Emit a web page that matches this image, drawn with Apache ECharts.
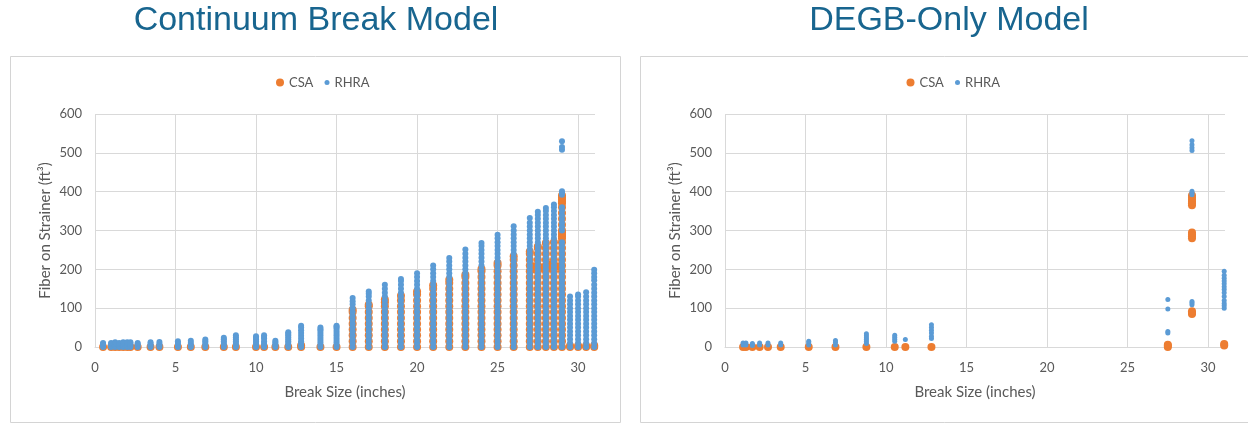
<!DOCTYPE html>
<html>
<head>
<meta charset="utf-8">
<script src="https://cdn.jsdelivr.net/npm/echarts@6/dist/echarts.min.js"></script>
<style>
html,body{margin:0;padding:0;background:#fff;}
#c{width:1248px;height:423px;}
</style>
</head>
<body>
<div id="c"></div>
<script>
// ---------- DATA ----------
const panelTitles = ['Continuum Break Model', 'DEGB-Only Model'];
const seriesNames = ['CSA', 'RHRA'];
const xAxisTitle = 'Break Size (inches)';
const yAxisTitle = 'Fiber on Strainer (ft³)';
const xRange = [0, 31.05];
const xStep = 5;
const yRange = [0, 600];
const yStep = 100;

// Continuum Break Model: break sizes (columns) and the fiber values found at each
const contSizes = [0.5,1,1.25,1.5,1.75,2,2.2,2.65,3.45,4,5.15,5.95,6.85,8,8.75,10,10.5,11.2,12,12.8,14,15,
  16,17,18,19,20,21,22,23,24,25,26,27,27.5,28,28.5,29,29.5,30,30.5,31];

const contRHRA = [
  [0,4,8,10],
  [0,4,8,10],
  [0,4,8,12],
  [0,4,8,10],
  [0,4,8,12],
  [0,4,8,12],
  [0,4,8,12],
  [0,4,8,10],
  [0,4,8,12],
  [0,4,8,13],
  [0,5,10,15],
  [0,5,10,16],
  [0,5,10,15,19],
  [0,5,10,15,20,24],
  [0,5,10,15,20,25,30],
  [0,5,10,15,20,24,28],
  [0,5,10,15,22,26,30],
  [0,4,8,12,16],
  [0,5,10,15,20,25,30,34,38],
  [0,5,10,15,22,29,36,43,50,55],
  [0,6,12,18,24,30,36,42,46,50],
  [0,6,12,18,24,30,36,42,48,52,55],
  [0,10,20,30,40,50,60,70,80,90,100,110,118,126],
  [0,10,20,30,40,50,60,70,80,90,100,110,120,130,137,143],
  [0,10,20,30,40,50,60,70,80,90,100,110,120,130,140,150,160],
  [0,10,20,30,40,50,60,70,80,90,100,110,120,130,140,150,160,170,175],
  [0,10,20,30,40,50,60,70,80,90,100,110,120,130,140,150,160,170,180,190],
  [0,10,20,30,40,50,60,70,80,90,100,110,120,130,140,150,160,170,180,190,200,210],
  [0,10,20,30,40,50,60,70,80,90,100,110,120,130,140,150,160,170,180,190,200,210,220,229],
  [0,10,20,30,40,50,60,70,80,90,100,110,120,130,140,150,160,170,180,190,200,210,220,230,240,251],
  [0,10,20,30,40,50,60,70,80,90,100,110,120,130,140,150,160,170,180,190,200,210,220,230,240,250,260,268],
  [0,10,20,30,40,50,60,70,80,90,100,110,120,130,140,150,160,170,180,190,200,210,220,230,240,250,260,270,280,289],
  [0,10,20,30,40,50,60,70,80,90,100,110,120,130,140,150,160,170,180,190,200,210,220,230,240,250,260,270,280,290,300,311],
  [0,10,20,30,40,50,60,70,80,90,100,110,120,130,140,150,160,170,180,190,200,210,220,230,240,250,260,270,280,290,300,310,320,332],
  [0,10,20,30,40,50,60,70,80,90,100,110,120,130,140,150,160,170,180,190,200,210,220,230,240,250,260,270,280,290,300,310,320,330,340,348],
  [0,10,20,30,40,50,60,70,80,90,100,110,120,130,140,150,160,170,180,190,200,210,220,230,240,250,260,270,280,290,300,310,320,330,340,350,358],
  [0,10,20,30,40,50,60,70,80,90,100,110,120,130,140,150,160,170,180,190,200,210,220,230,240,250,260,270,280,290,300,310,320,330,340,350,360,367],
  [0,10,20,30,40,50,60,70,80,90,100,110,120,130,140,150,160,170,180,190,200,210,220,230,240,250,260,270,300,310,320,330,340,350,360,392,396,401,508,515,530],
  [0,10,20,30,40,50,60,70,80,90,100,110,120,130],
  [0,10,20,30,40,50,60,70,80,90,100,110,120,130,135],
  [0,10,20,30,40,50,60,70,80,90,100,110,120,130,141],
  [0,10,20,30,40,50,60,70,80,90,100,110,120,130,140,150,160,172,180,190,199]
];

const contCSA = [
  [0],[0],[0],[0],[0],[0],[0],[0],[0],[0],[0],[0],[0],[0],[0],[0],[0],[0],[0],[0,4],[0],[0],
  [0,15,30,45,60,75,90,96],
  [0,15,30,45,60,75,90,105,109],
  [0,15,30,45,60,75,90,105,115,122],
  [0,15,30,45,60,75,90,105,120,132],
  [0,15,30,45,60,75,90,105,120,135,143],
  [0,15,30,45,60,75,90,105,120,135,150,159],
  [0,15,30,45,60,75,90,105,120,135,150,165,173],
  [0,15,30,45,60,75,90,105,120,135,150,165,180,186],
  [0,15,30,45,60,75,90,105,120,135,150,165,180,195,201],
  [0,15,30,45,60,75,90,105,120,135,150,165,180,195,210,216],
  [0,15,30,45,60,75,90,105,120,135,150,165,180,195,210,225,234],
  [0,15,30,45,60,75,90,105,120,135,150,165,180,195,210,225,240,246],
  [0,15,30,45,60,75,90,105,120,135,150,165,180,195,210,225,240,255,259],
  [0,15,30,45,60,75,90,105,120,135,150,165,180,195,210,225,240,255,268],
  [0,15,30,45,60,75,90,105,120,135,150,165,180,195,210,225,240,255,270],
  [0,15,30,45,60,75,90,105,120,135,150,165,180,195,210,225,240,255,270,280,285,290,295,300,315,330,345,360,370,375,380,385,390],
  [0,3],[0,3],[0,3],[0,4]
];

// extra CSA points between the 27-29 inch columns
const contCSAExtraSizes = [27.25, 27.75, 28.25, 28.75];
const contCSAExtra = [[200,208],[205],[205,212],[208]];

// DEGB-Only Model
const degbSizes = [1.12,1.3,1.7,2.15,2.67,3.46,5.2,6.86,8.78,10.54,11.2,12.82,27.5,29,31];
const degbRHRA = [
  [5,10],[5,10],[4,9],[5,10],[5,10],[5,10],[5,10,15],[5,12,17],
  [9,14,19,24,29,34],[15,20,25,30],[19],[22,28,36,43,50,57],
  [36,40,98,122],
  [109,113,117,392,396,401,506,513,521,531],
  [100,106,112,120,130,140,148,155,163,170,177,185,195]
];
const degbCSA = [
  [0],[0],[0],[0],[0],[0],[0],[0],[0],[0],[0],[0],
  [0,3,6],
  [85,88,92,280,285,290,295,365,370,375,380,385,390],
  [4,8]
];

// ---------- BUILD ----------
function pairs(xs, ys) {
  const out = [];
  xs.forEach((x, i) => ys[i].forEach(y => out.push([x, y])));
  return out;
}
const COL_CSA = '#ED7D31';
const COL_RHRA = '#5B9BD5';
const GRAY_TXT = '#595959';
const GRID_LINE = '#d9d9d9';
const FONT = 'Lato, "Open Sans", sans-serif';

const panels = [
  {left: 95, legendCSA: 271, legendRHRA: 319.5, titleX: 316, box: [10.5, 56.5, 610, 366], blueSize: 6,
   csa: pairs(contSizes, contCSA).concat(pairs(contCSAExtraSizes, contCSAExtra)),
   rhra: pairs(contSizes, contRHRA)},
  {left: 725, legendCSA: 901.5, legendRHRA: 950, titleX: 949, box: [640.5, 56.5, 640, 366], blueSize: 5,
   csa: pairs(degbSizes, degbCSA),
   rhra: pairs(degbSizes, degbRHRA)}
];

const grids = [], xAxes = [], yAxes = [], series = [], legends = [], graphics = [];
panels.forEach((p, i) => {
  grids.push({left: p.left, top: 114, width: 500, height: 233, containLabel: false});
  xAxes.push({
    type: 'value', gridIndex: i, min: xRange[0], max: xRange[1], interval: xStep,
    name: xAxisTitle, nameLocation: 'middle', nameGap: 38,
    nameTextStyle: {color: GRAY_TXT, fontSize: 15, fontFamily: FONT},
    axisLine: {show: true, lineStyle: {color: GRID_LINE}},
    axisTick: {show: false},
    axisLabel: {color: GRAY_TXT, fontSize: 13, fontFamily: FONT, margin: 14, showMaxLabel: false},
    splitLine: {show: true, showMaxLine: false, lineStyle: {color: GRID_LINE, width: 1}}
  });
  yAxes.push({
    type: 'value', gridIndex: i, min: yRange[0], max: yRange[1], interval: yStep,
    name: yAxisTitle, nameLocation: 'middle', nameGap: 42,
    nameTextStyle: {color: GRAY_TXT, fontSize: 15, fontFamily: FONT},
    axisLine: {show: false}, axisTick: {show: false},
    axisLabel: {color: GRAY_TXT, fontSize: 13, fontFamily: FONT, margin: 13},
    splitLine: {show: true, lineStyle: {color: GRID_LINE, width: 1}}
  });
  series.push({
    name: seriesNames[0], type: 'scatter', xAxisIndex: i, yAxisIndex: i,
    data: p.csa, symbol: 'circle', symbolSize: 8,
    itemStyle: {color: COL_CSA, opacity: 1}
  });
  series.push({
    name: seriesNames[1], type: 'scatter', xAxisIndex: i, yAxisIndex: i,
    data: p.rhra, symbol: 'circle', symbolSize: p.blueSize,
    itemStyle: {color: COL_RHRA, opacity: 1}
  });
  legends.push({data: [seriesNames[0]], left: p.legendCSA, top: 71, icon: 'circle',
    itemWidth: 8, itemHeight: 8, selectedMode: false,
    textStyle: {color: GRAY_TXT, fontSize: 13, fontFamily: FONT}});
  legends.push({data: [seriesNames[1]], left: p.legendRHRA, top: 71, icon: 'circle',
    itemWidth: 5, itemHeight: 5, selectedMode: false,
    textStyle: {color: GRAY_TXT, fontSize: 13, fontFamily: FONT}});
  graphics.push({type: 'rect', shape: {x: p.box[0], y: p.box[1], width: p.box[2], height: p.box[3]},
    style: {fill: 'none', stroke: '#d4d4d4', lineWidth: 1}, silent: true, z: -1});
  graphics.push({type: 'text', x: p.titleX, y: 21,
    style: {text: panelTitles[i], fill: '#18658f', font: '34px "Liberation Sans", Arial, sans-serif',
      textAlign: 'center', textVerticalAlign: 'middle'}, silent: true});
});

const chart = echarts.init(document.getElementById('c'), null, {renderer: 'canvas'});
chart.setOption({
  animation: false,
  backgroundColor: '#ffffff',
  grid: grids, xAxis: xAxes, yAxis: yAxes, series: series, legend: legends,
  graphic: graphics
});
</script>
</body>
</html>
